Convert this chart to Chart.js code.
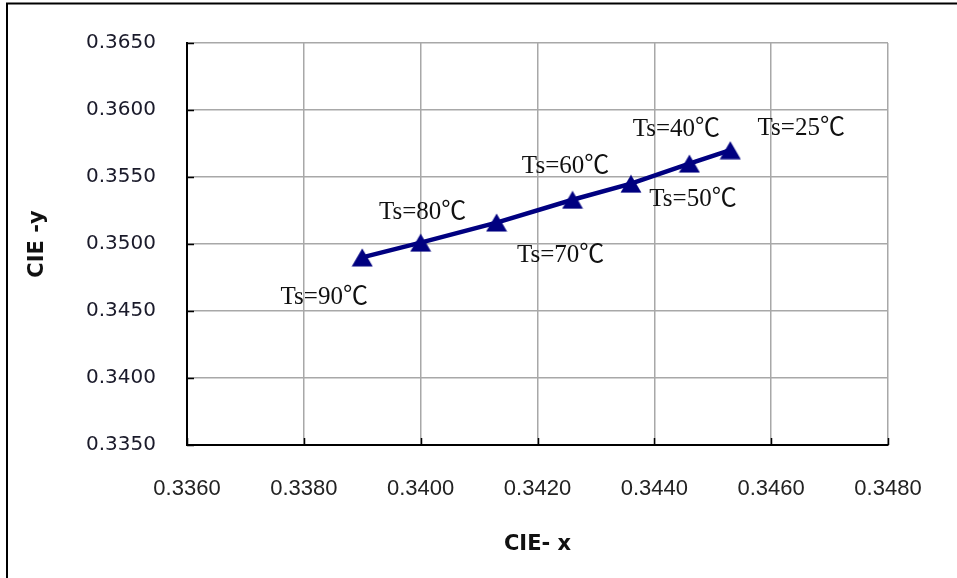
<!DOCTYPE html>
<html>
<head>
<meta charset="utf-8">
<script src="https://cdn.jsdelivr.net/npm/chart.js@4"></script>
<style>
  html, body { margin: 0; padding: 0; background: #fff; overflow: hidden; }
  #wrap { position: relative; width: 957px; height: 578px; }
</style>
</head>
<body>
<div id="wrap"><canvas id="c"></canvas></div>
<script>
// ---- data ----
const temperatures = [90, 80, 70, 60, 50, 40, 25];          // Ts (°C)
const cieX = [0.3390, 0.3400, 0.3413, 0.3426, 0.3436, 0.3446, 0.3453];
const cieY = [0.3490, 0.3501, 0.3516, 0.3533, 0.3545, 0.3560, 0.3570];
const xTicks = [0.3360, 0.3380, 0.3400, 0.3420, 0.3440, 0.3460, 0.3480];
const yTicks = [0.3350, 0.3400, 0.3450, 0.3500, 0.3550, 0.3600, 0.3650];
const xTitle = 'CIE- x';
const yTitle = 'CIE -y';

// ---- label placement (pixel offsets from each point: centre x, baseline y) ----
const labelOffsets = [[-38, 47], [2, -24], [64, 39], [-7, -27], [62, 22], [-13, -28], [71, -15]];

const NAVY = '#000080';

// triangle marker centred on its bounding box (Excel style)
function makeTriangle() {
  const w = 22, h = 19;
  const cv = document.createElement('canvas');
  cv.width = w; cv.height = h;
  const g = cv.getContext('2d');
  g.fillStyle = NAVY;
  g.beginPath();
  g.moveTo(w / 2, 0.5);
  g.lineTo(w - 0.5, h - 0.5);
  g.lineTo(0.5, h - 0.5);
  g.closePath();
  g.fill();
  return cv;
}
const triangle = makeTriangle();

const points = cieX.map((x, i) => ({ x: x, y: cieY[i] }));

const frame = {
  id: 'frame',
  beforeDraw(chart) {
    const ctx = chart.ctx;
    ctx.save();
    ctx.fillStyle = '#fff';
    ctx.fillRect(0, 0, chart.width, chart.height);
    ctx.strokeStyle = '#000';
    ctx.lineWidth = 2;
    ctx.beginPath();
    ctx.moveTo(7, chart.height);
    ctx.lineTo(7, 3.5);
    ctx.lineTo(chart.width, 3.5);
    ctx.stroke();
    ctx.restore();
  }
};

const innerTicks = {
  id: 'innerTicks',
  afterDatasetsDraw(chart) {
    const ctx = chart.ctx;
    const xs = chart.scales.x, ys = chart.scales.y;
    const a = chart.chartArea;
    ctx.save();
    ctx.strokeStyle = '#000';
    ctx.lineWidth = 1.5;
    ctx.beginPath();
    xTicks.forEach(v => {
      const px = Math.round(xs.getPixelForValue(v)) + 0.5;
      ctx.moveTo(px, a.bottom);
      ctx.lineTo(px, a.bottom - 7);
    });
    yTicks.forEach(v => {
      const py = Math.round(ys.getPixelForValue(v)) + 0.5;
      ctx.moveTo(a.left, py);
      ctx.lineTo(a.left + 7, py);
    });
    ctx.stroke();
    ctx.restore();
  }
};

const pointLabels = {
  id: 'pointLabels',
  afterDatasetsDraw(chart) {
    const ctx = chart.ctx;
    const meta = chart.getDatasetMeta(0);
    ctx.save();
    ctx.font = '25px "Liberation Serif", "Noto Sans CJK SC", serif';
    ctx.fillStyle = '#111';
    ctx.textAlign = 'center';
    ctx.textBaseline = 'alphabetic';
    meta.data.forEach((el, i) => {
      const off = labelOffsets[i];
      ctx.fillText('Ts=' + temperatures[i] + '℃', el.x + off[0], el.y + off[1]);
    });
    ctx.restore();
  }
};

new Chart(document.getElementById('c'), {
  type: 'scatter',
  data: {
    datasets: [{
      data: points,
      showLine: true,
      borderColor: NAVY,
      backgroundColor: NAVY,
      borderWidth: 4.5,
      pointStyle: triangle,
      pointRadius: 11,
      pointHoverRadius: 11,
      tension: 0
    }]
  },
  options: {
    responsive: true,
    maintainAspectRatio: false,
    animation: false,
    devicePixelRatio: 1,
    layout: { padding: { top: 42, right: 69, bottom: 0, left: 0 } },
    plugins: { legend: { display: false }, tooltip: { enabled: false } },
    scales: {
      x: {
        type: 'linear',
        min: xTicks[0],
        max: xTicks[xTicks.length - 1],
        afterBuildTicks(scale) { scale.ticks = xTicks.map(v => ({ value: v })); },
        afterFit(scale) { scale.height = 133; },
        grid: { color: '#a8a8a8', lineWidth: 1.5, drawTicks: false },
        border: { color: '#000', width: 2 },
        ticks: {
          padding: 31,
          color: '#222',
          font: { family: '"Liberation Sans", Arial, sans-serif', size: 22 },
          callback: v => Number(v).toFixed(4)
        },
        title: {
          display: true,
          text: xTitle,
          color: '#111',
          font: { family: '"DejaVu Sans", sans-serif', size: 21, weight: 'bold' },
          padding: { top: 0, bottom: 21 }
        }
      },
      y: {
        type: 'linear',
        min: yTicks[0],
        max: yTicks[yTicks.length - 1],
        afterBuildTicks(scale) { scale.ticks = yTicks.map(v => ({ value: v })); },
        afterFit(scale) { scale.width = 187; },
        grid: { color: '#a8a8a8', lineWidth: 1.5, drawTicks: false },
        border: { color: '#000', width: 2 },
        ticks: {
          padding: 31,
          color: '#1a1a2a',
          font: { family: '"DejaVu Sans", sans-serif', size: 20 },
          callback: v => Number(v).toFixed(4)
        },
        title: {
          display: true,
          text: yTitle,
          color: '#111',
          font: { family: '"DejaVu Sans", sans-serif', size: 21, weight: 'bold' },
          padding: { top: 25, bottom: 0 }
        }
      }
    }
  },
  plugins: [frame, innerTicks, pointLabels]
});
</script>
</body>
</html>
